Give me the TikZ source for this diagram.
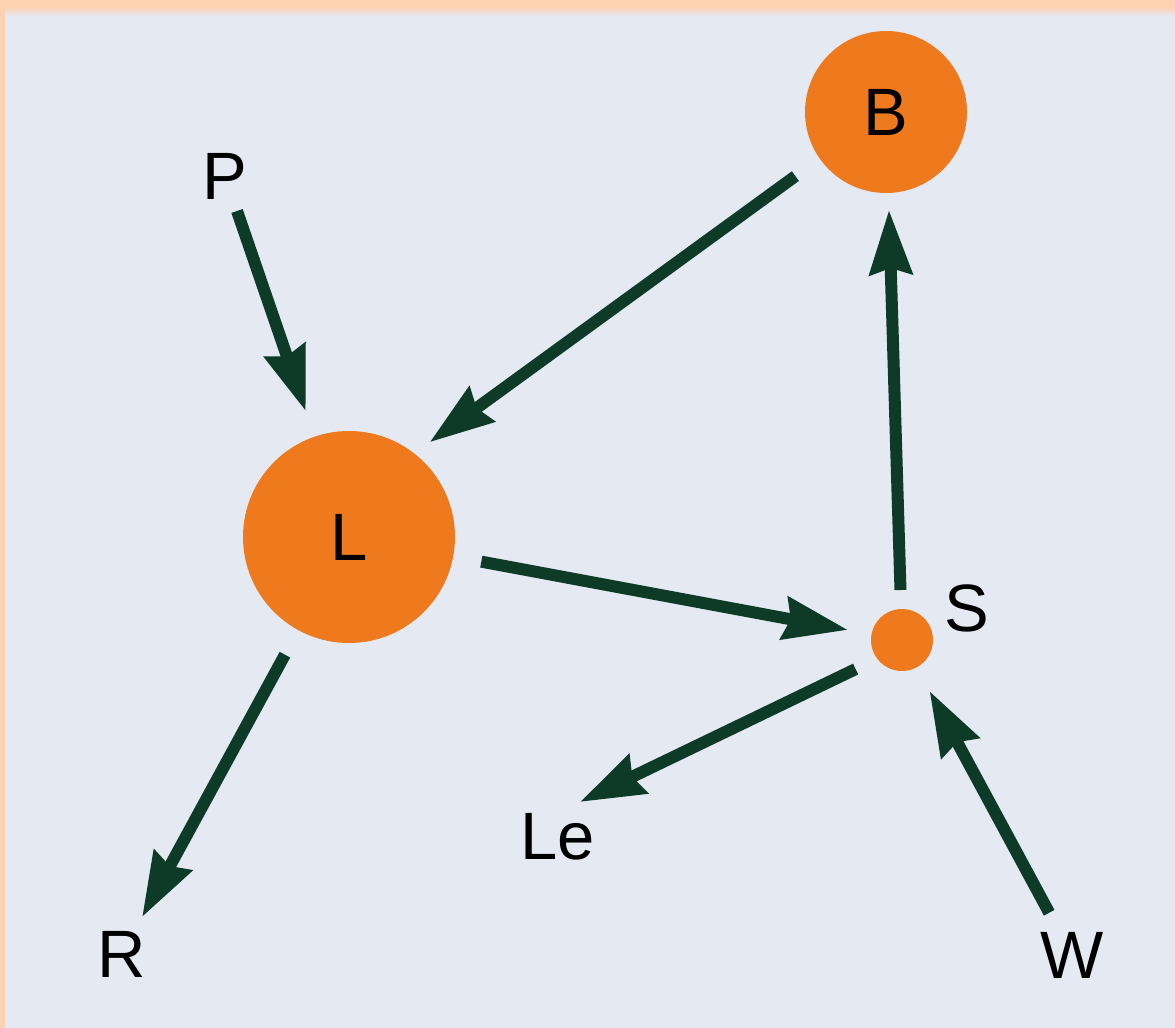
\documentclass[tikz,border=0pt]{standalone}
\usepackage{fontspec}
\setmainfont{Liberation Sans}
\usetikzlibrary{arrows.meta,calc}

\definecolor{panelbg}{HTML}{E4E9F2}
\definecolor{framepeach}{HTML}{FDD2B1}
\definecolor{blob}{HTML}{EE7A1D}
\definecolor{linkgreen}{HTML}{0E3B28}

\tikzset{
  blobnode/.style={circle, fill=blob, draw=none, inner sep=0pt, outer sep=0pt},
  tag/.style={inner sep=0pt, outer sep=0pt, text=black,
              font=\fontsize{33.5}{40}\selectfont},
  link/.style={draw=linkgreen, line width=6pt,
               -{Stealth[length=32pt, width=21pt, inset=3pt]}},
}

\begin{document}
\begin{tikzpicture}[x=0.5pt, y=-0.5pt]
  % panel with peach frame strips on the top and left edges
  \useasboundingbox (0,0) rectangle (1175,1028);
  \fill[panelbg] (0,0) rectangle (1175,1028);
  \fill[framepeach] (0,0) rectangle (1175,8);
  \fill[framepeach] (0,0) rectangle (5,1028);
  \shade[top color=framepeach, bottom color=panelbg] (5,7) rectangle (1175,16);

  % circles
  \node[blobnode, minimum size=106pt, tag] (L) at (349,537) {L};
  \node[blobnode, minimum size=81pt, tag] (B) at (886,112) {B};
  \node[blobnode, minimum size=31pt] (S) at (902,640) {};

  % labels
  \node[tag] (P)  at (225,176) {P};
  \node[tag] (R)  at (122,954) {R};
  \node[tag] (Le) at (558,837) {Le};
  \node[tag] (W)  at (1072,955) {W};
  \node[tag] (Slab) at (967,608) {S};

  % connectors
  \draw[link, shorten <=18.5pt, shorten >=66.5pt] (P.center) -- (L.center);
  \draw[link, shorten <=15pt, shorten >=9.5pt] (B.215) -- (L.52.5);
  \draw[link, shorten <=67.3pt, shorten >=27.5pt] (L.center) -- (S.center);
  \draw[link, shorten <=25pt, shorten >=49pt] (S.center) -- (B.center);
  \draw[link, shorten <=12pt] (S.217) -- ($(Le.center)+(22,-35)$);
  \draw[link, shorten <=24pt, shorten >=29pt] (W.center) -- (S.center);
  \draw[link, shorten <=67pt, shorten >=21pt] (L.center) -- (R.center);
\end{tikzpicture}
\end{document}
